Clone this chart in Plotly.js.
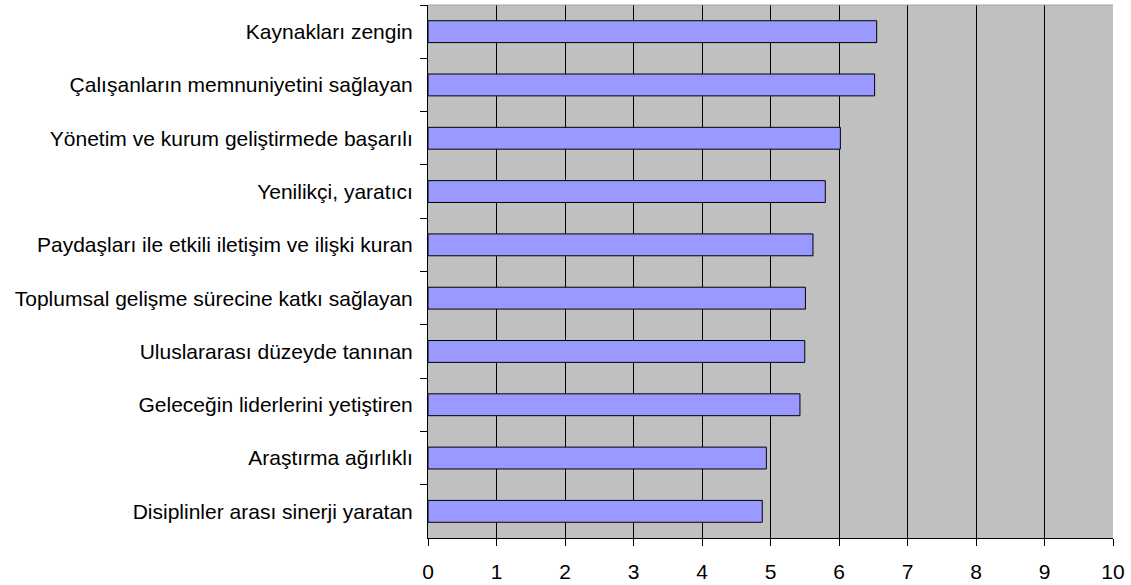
<!DOCTYPE html>
<html><head><meta charset="utf-8">
<script src="https://cdn.plot.ly/plotly-3.0.1.min.js"></script>
<style>html,body{margin:0;padding:0;background:#fff}#c{width:1131px;height:585px}</style>
</head><body><div id="c"></div>
<script>
const categories = [
  "Kaynakları zengin",
  "Çalışanların memnuniyetini sağlayan",
  "Yönetim ve kurum geliştirmede başarılı",
  "Yenilikçi, yaratıcı",
  "Paydaşları ile etkili iletişim ve ilişki kuran",
  "Toplumsal gelişme sürecine katkı sağlayan",
  "Uluslararası düzeyde tanınan",
  "Geleceğin liderlerini yetiştiren",
  "Araştırma ağırlıklı",
  "Disiplinler arası sinerji yaratan"
];
const values = [6.55, 6.52, 6.02, 5.80, 5.62, 5.51, 5.50, 5.43, 4.94, 4.88];
const xTicks = [0,1,2,3,4,5,6,7,8,9,10];

Plotly.newPlot('c', [{
  type: 'bar', orientation: 'h', y: categories, x: values,
  width: 0.41,
  marker: {color: '#9999ff', line: {color: '#000000', width: 1}},
  hoverinfo: 'skip'
}], {
  width: 1131, height: 585,
  margin: {l: 428, r: 18, t: 5, b: 47},
  paper_bgcolor: '#ffffff', plot_bgcolor: '#c0c0c0',
  font: {family: 'Liberation Sans, Arial, sans-serif', size: 21, color: '#000'},
  showlegend: false,
  bargap: 0.59,
  xaxis: {
    range: [0, 10], tickvals: xTicks, ticktext: xTicks.map(String),
    showgrid: true, gridcolor: '#000000', gridwidth: 1,
    zeroline: false, showline: true, linecolor: '#000', linewidth: 1,
    ticks: 'outside', ticklen: 7, tickcolor: '#000',
    ticklabelstandoff: 8,
    tickfont: {size: 21}
  },
  yaxis: {
    type: 'category', autorange: 'reversed',
    showgrid: false, zeroline: false, showline: true, linecolor: '#000', linewidth: 1,
    ticks: 'outside', ticklen: 7, tickcolor: '#000', tickson: 'boundaries',
    ticklabelstandoff: 10,
    tickfont: {size: 21}
  },
  shapes: [{type: 'line', xref: 'paper', yref: 'paper', x0: 0, x1: 1, y0: 1, y1: 1,
            line: {color: '#a0a0a0', width: 1}}]
}, {displayModeBar: false, staticPlot: true});
</script></body></html>
